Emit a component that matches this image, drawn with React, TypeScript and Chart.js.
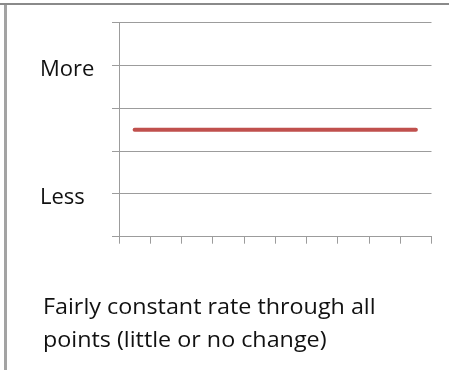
import React, { useEffect, useRef } from "react";
import { Chart, registerables } from "chart.js";

Chart.register(...registerables);

const categories = ["1", "2", "3", "4", "5", "6", "7", "8", "9", "10"];
const rateValues = [2.5, 2.5, 2.5, 2.5, 2.5, 2.5, 2.5, 2.5, 2.5, 2.5];
const yTickValues = [0, 1, 2, 3, 4, 5];
const yTickLabels = ["", "Less", "", "", "More", ""];
const captionLines = ["Fairly constant rate through all", "points (little or no change)"];

const FONT = "'Open Sans', 'Liberation Sans', sans-serif";
const GRID = "#9c9c9c";

export default function App() {
  const canvasRef = useRef<HTMLCanvasElement | null>(null);

  useEffect(() => {
    const canvas = canvasRef.current;
    if (!canvas) return;
    const chart = new Chart(canvas, {
      type: "line",
      data: {
        labels: categories,
        datasets: [
          {
            data: rateValues,
            borderColor: "#c0504d",
            backgroundColor: "#c0504d",
            borderWidth: 4,
            borderCapStyle: "round",
            pointRadius: 0,
            tension: 0,
          },
        ],
      },
      options: {
        animation: false,
        responsive: false,
        events: [],
        layout: { padding: { left: 40, top: 22.7, right: 17.5, bottom: 0 } },
        plugins: { legend: { display: false }, tooltip: { enabled: false }, title: { display: false } },
        scales: {
          x: {
            type: "category",
            offset: true,
            grid: {
              offset: true,
              drawOnChartArea: false,
              drawTicks: true,
              tickLength: 7,
              color: GRID,
              lineWidth: 1,
            },
            border: { display: true, color: GRID, width: 1 },
            ticks: { display: false },
            afterFit: (scale: any) => {
              scale.height = 370 - 236.7;
            },
          },
          y: {
            min: 0,
            max: 5,
            afterBuildTicks: (scale: any) => {
              scale.ticks = yTickValues.map((v) => ({ value: v }));
            },
            grid: {
              drawTicks: true,
              tickLength: 7,
              color: GRID,
              lineWidth: 1,
            },
            border: { display: true, color: GRID, width: 1 },
            ticks: {
              crossAlign: "far",
              labelOffset: 4,
              color: "#111111",
              font: { family: FONT, size: 22 },
              callback: (value: any) => {
                const i = yTickValues.indexOf(Number(value));
                return i >= 0 ? yTickLabels[i] : "";
              },
            },
            afterFit: (scale: any) => {
              scale.width = 79;
            },
          },
        },
      },
    });
    return () => chart.destroy();
  }, []);

  return (
    <div style={{ position: "absolute", left: 0, top: 0, width: 449, height: 370, background: "#ffffff", overflow: "hidden" }}>
      <div style={{ position: "absolute", left: 0, top: 3, width: 449, height: 2, background: "#8a8a8a" }} />
      <div style={{ position: "absolute", left: 4, top: 5, width: 3, height: 365, background: "#a3a3a3" }} />
      <canvas ref={canvasRef} width={449} height={370} style={{ position: "absolute", left: 0, top: 0, width: 449, height: 370 }} />
      <div
        style={{
          position: "absolute",
          left: 43,
          top: 290,
          fontFamily: FONT,
          fontSize: 21,
          lineHeight: "33px",
          color: "#111111",
          whiteSpace: "nowrap",
          transform: "scaleX(1.11)",
          transformOrigin: "left top",
        }}
      >
        {captionLines.map((l, i) => (
          <div key={i}>{l}</div>
        ))}
      </div>
    </div>
  );
}
